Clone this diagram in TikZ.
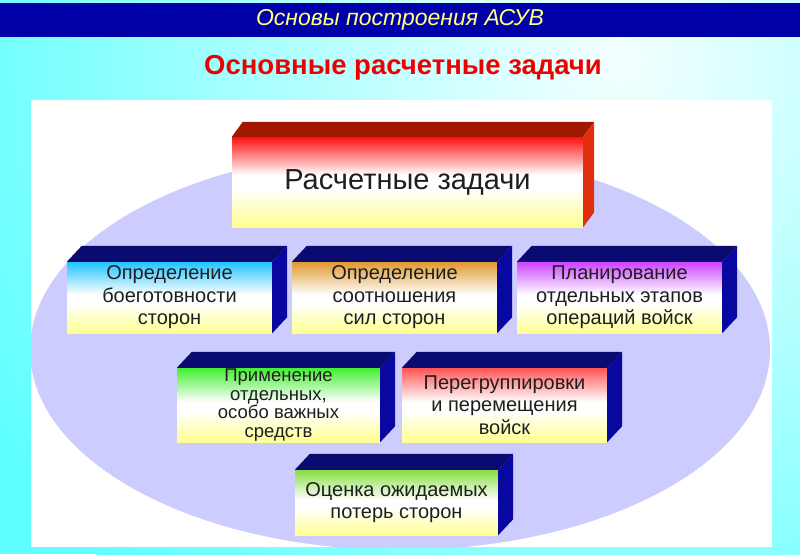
\documentclass[tikz,border=0pt]{standalone}
\usepackage{fontspec}
\setmainfont{Liberation Sans}
\usetikzlibrary{calc}
\definecolor{bgcyan}{HTML}{60FFFF}
\definecolor{bglight}{HTML}{F4FFFF}
\definecolor{barblue}{HTML}{0000A8}
\definecolor{titleylw}{HTML}{FFFF80}
\definecolor{subred}{HTML}{EE0000}
\definecolor{lav}{HTML}{CCCCFF}
\definecolor{ylw}{HTML}{FFFF90}
\definecolor{cblue}{HTML}{22C4FF}
\definecolor{corange}{HTML}{E09A30}
\definecolor{cpurple}{HTML}{CC44FF}
\definecolor{cgreen}{HTML}{44EE33}
\definecolor{cred}{HTML}{FF5555}
\definecolor{cgreenb}{HTML}{88DD44}
\definecolor{ctop}{HTML}{FF1010}
\definecolor{navytop}{HTML}{0A0A70}
\definecolor{navyside}{HTML}{0808A0}
\definecolor{redtop}{HTML}{A01800}
\definecolor{redside}{HTML}{E03010}
\definecolor{txt}{HTML}{1E1E1E}
\pgfdeclareverticalshading{shblue}{100bp}{color(0bp)=(ylw); color(25bp)=(ylw); color(46bp)=(white); color(52bp)=(white); color(75bp)=(cblue); color(100bp)=(cblue)}
\pgfdeclareverticalshading{shorange}{100bp}{color(0bp)=(ylw); color(25bp)=(ylw); color(46bp)=(white); color(52bp)=(white); color(75bp)=(corange); color(100bp)=(corange)}
\pgfdeclareverticalshading{shpurple}{100bp}{color(0bp)=(ylw); color(25bp)=(ylw); color(46bp)=(white); color(52bp)=(white); color(75bp)=(cpurple); color(100bp)=(cpurple)}
\pgfdeclareverticalshading{shgreen}{100bp}{color(0bp)=(ylw); color(25bp)=(ylw); color(46bp)=(white); color(52bp)=(white); color(75bp)=(cgreen); color(100bp)=(cgreen)}
\pgfdeclareverticalshading{shred}{100bp}{color(0bp)=(ylw); color(25bp)=(ylw); color(46bp)=(white); color(52bp)=(white); color(75bp)=(cred); color(100bp)=(cred)}
\pgfdeclareverticalshading{shgreenb}{100bp}{color(0bp)=(ylw); color(25bp)=(ylw); color(46bp)=(white); color(52bp)=(white); color(75bp)=(cgreenb); color(100bp)=(cgreenb)}
\pgfdeclareverticalshading{shtop}{100bp}{color(0bp)=(ylw); color(25bp)=(ylw); color(47bp)=(white); color(54bp)=(white); color(75bp)=(ctop); color(100bp)=(ctop)}
\newcommand\boxfaces[5]{%
  \fill[#4] (#1.north west) -- ++(#2,#3) -- ([shift={(#2,#3)}]#1.north east) -- (#1.north east) -- cycle;
  \fill[#5] (#1.north east) -- ([shift={(#2,#3)}]#1.north east) -- ([shift={(#2,#3)}]#1.south east) -- (#1.south east) -- cycle;}
\tikzset{
  frontbox/.style={rectangle, inner sep=0pt, align=center, text=txt,
    font=\fontsize{20}{22.5}\selectfont},
  smallbox/.style={frontbox, minimum width=205pt, minimum height=71pt},
}
\begin{document}
\begin{tikzpicture}[x=1pt,y=-1pt]
\useasboundingbox (0,0) rectangle (800,554);
% background
\fill[bgcyan] (0,0) rectangle (800,554);
\begin{scope}
\clip (0,0) rectangle (800,554);
\shade[inner color=bglight, outer color=bgcyan] (620,60) circle (720);
\end{scope}
% title bar
\fill[barblue] (0,3) rectangle (800,37);
\node[text=titleylw, font=\fontsize{23}{27}\selectfont\itshape] (title) at (400,20) {Основы построения АСУВ};
\node[text=subred, font=\fontsize{27.5}{31}\selectfont\bfseries] (subtitle) at (403,68) {Основные расчетные задачи};
% white panel and ellipse
\fill[white] (31,100) rectangle (772,547);
\begin{scope}
\clip (31,100) rectangle (772,547);
\fill[lav] (400,350) ellipse [x radius=370, y radius=200];
\end{scope}
% top box
\node[frontbox, shading=shtop, minimum width=351pt, minimum height=90pt,
  font=\fontsize{29}{32}\selectfont] (top) at (407.5,182) {Расчетные задачи};
\boxfaces{top}{11}{-15}{redtop}{redside}
% row 2
\node[smallbox, shading=shblue] (b1) at (169.5,297.5) {Определение\\боеготовности\\сторон};
\boxfaces{b1}{15}{-16}{navytop}{navyside}
\node[smallbox, shading=shorange] (b2) at (394.5,297.5) {Определение\\соотношения\\сил сторон};
\boxfaces{b2}{15}{-16}{navytop}{navyside}
\node[smallbox, shading=shpurple] (b3) at (619.5,297.5) {Планирование\\отдельных этапов\\операций войск};
\boxfaces{b3}{15}{-16}{navytop}{navyside}
% row 3
\node[smallbox, shading=shgreen, minimum width=203pt, minimum height=74pt,
  font=\fontsize{18.5}{18.5}\selectfont] (b4) at (278.5,405) {Применение\\отдельных,\\особо важных\\средств};
\boxfaces{b4}{15}{-16}{navytop}{navyside}
\node[smallbox, shading=shred, minimum height=74pt] (b5) at (504.5,405) {Перегруппировки\\и перемещения\\войск};
\boxfaces{b5}{15}{-16}{navytop}{navyside}
% row 4
\node[smallbox, shading=shgreenb, minimum width=203pt, minimum height=65pt] (b6) at (396.5,502.5) {Оценка ожидаемых\\потерь сторон};
\boxfaces{b6}{15}{-16}{navytop}{navyside}
\end{tikzpicture}
\end{document}
